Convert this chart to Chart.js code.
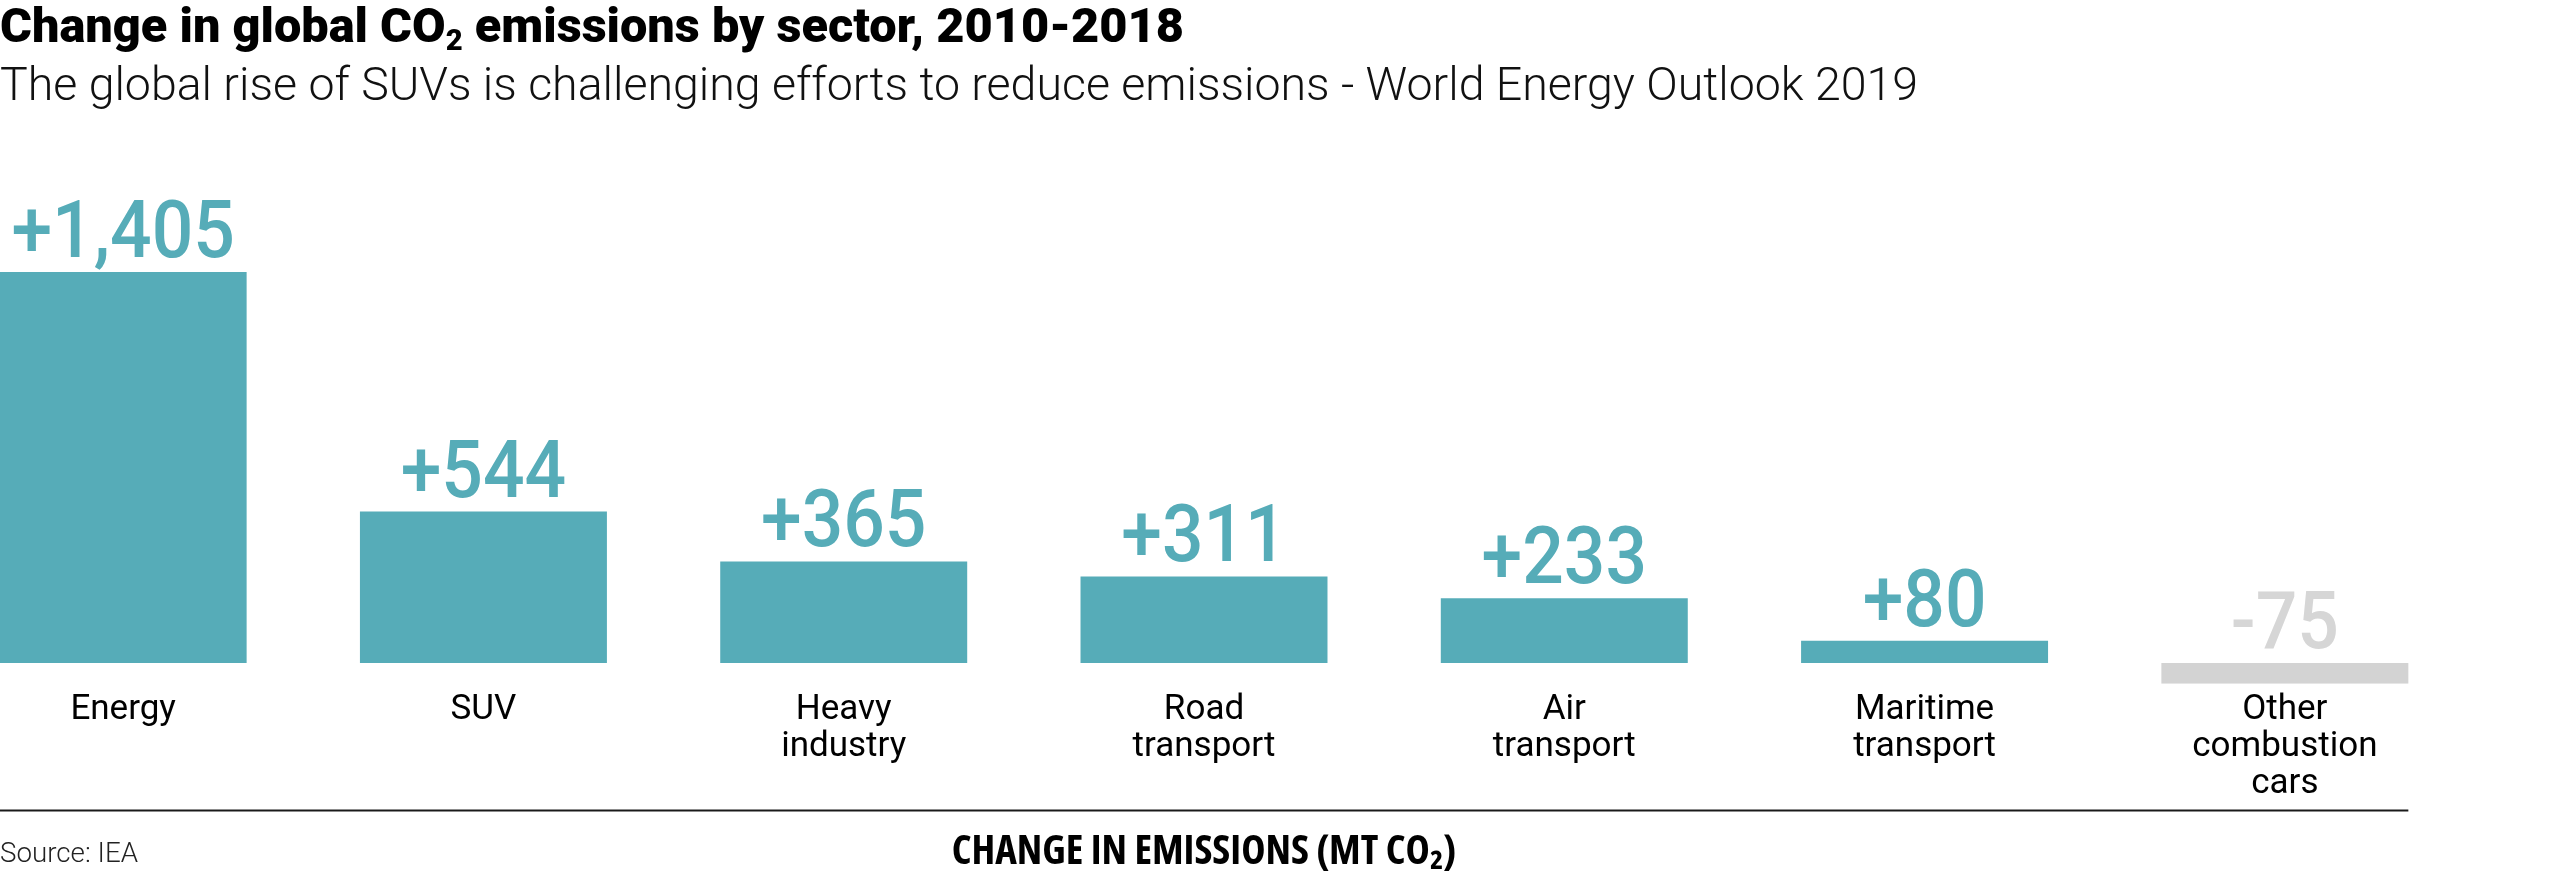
<!DOCTYPE html>
<html><head><meta charset="utf-8">
<script src="https://cdn.jsdelivr.net/npm/chart.js@4.4.1/dist/chart.umd.min.js"></script>
<style>
html,body{margin:0;padding:0;background:#fff;width:2560px;height:884px;overflow:hidden;position:relative}
#wrap{position:absolute;left:-57px;top:0;width:2617px;height:884px}
canvas{display:block}
.txt{position:absolute;left:0;white-space:nowrap;transform-origin:0 0;color:#000;font-family:Roboto,sans-serif;line-height:1;margin:0}
#title{top:1.6px;font-size:48px;font-weight:900}
#sub{top:61.3px;font-size:46px;font-weight:300;color:#111}
#src{top:839.4px;font-size:28px;font-weight:300;color:#222}
.sb{font-size:60%;position:relative;top:0.3em}
</style></head>
<body>
<div id="wrap"><canvas id="c" width="2617" height="884"></canvas></div>
<div class="txt" id="title" data-w="1184">Change in global CO<span class="sb">2</span> emissions by sector, 2010-2018</div>
<div class="txt" id="sub" data-w="1918">The global rise of SUVs is challenging efforts to reduce emissions - World Energy Outlook 2019</div>
<div class="txt" id="src" data-w="138">Source: IEA</div>
<script>
const categories = [['Energy'], ['SUV'], ['Heavy', 'industry'], ['Road', 'transport'], ['Air', 'transport'], ['Maritime', 'transport'], ['Other', 'combustion', 'cars']];
const values = [1405, 544, 365, 311, 233, 80, -75];
const axisTitle = 'CHANGE IN EMISSIONS (MT CO₂)';
const yMin = -75, yMax = 1500;

const POS = '#56acb8', NEG = '#d3d3d3', NEG_LABEL = '#d6d6d6';

const valueLabels = {
  id: 'valueLabels',
  afterDatasetsDraw(chart) {
    const ctx = chart.ctx;
    const meta = chart.getDatasetMeta(0);
    ctx.save();
    ctx.font = '500 80px Roboto';
    ctx.textAlign = 'center';
    ctx.textBaseline = 'alphabetic';
    meta.data.forEach((bar, i) => {
      const v = values[i];
      const txt = (v > 0 ? '+' : '-') + Math.abs(v).toLocaleString('en-US');
      const y = Math.min(bar.y, bar.base) - 15;
      ctx.fillStyle = v < 0 ? NEG_LABEL : POS;
      ctx.save();
      ctx.translate(bar.x, y);
      ctx.scale(0.915, 1);
      ctx.fillText(txt, 0, 0);
      ctx.restore();
    });
    ctx.restore();
  }
};

const baseLine = {
  id: 'baseLine',
  afterDraw(chart) {
    const meta = chart.getDatasetMeta(0);
    const first = meta.data[0], last = meta.data[meta.data.length - 1];
    const x0 = first.x - first.width / 2, x1 = last.x + last.width / 2;
    const ctx = chart.ctx;
    ctx.save();
    ctx.strokeStyle = '#1a1a1a';
    ctx.lineWidth = 2;
    ctx.beginPath();
    ctx.moveTo(x0, 810.5);
    ctx.lineTo(x1, 810.5);
    ctx.stroke();
    ctx.restore();
  }
};

new Chart(document.getElementById('c'), {
  type: 'bar',
  data: {
    labels: categories,
    datasets: [{
      data: values,
      backgroundColor: values.map(v => v < 0 ? NEG : POS),
      borderWidth: 0,
      categoryPercentage: 1,
      barPercentage: 0.6855
    }]
  },
  options: {
    responsive: false,
    animation: false,
    devicePixelRatio: 1,
    layout: { padding: { left: 0, right: 95, top: 245.57, bottom: 10 } },
    plugins: { legend: { display: false }, tooltip: { enabled: false }, title: { display: false } },
    scales: {
      x: {
        grid: { display: false, drawTicks: false },
        border: { display: false },
        ticks: { color: '#000', font: { family: 'Roboto', size: 35, lineHeight: '37px' }, padding: 8, maxRotation: 0, autoSkip: false },
        title: { display: true, text: axisTitle, color: '#000', font: { family: "'Open Sans'", weight: 'bold semi-condensed', size: 41, lineHeight: 1 }, padding: { top: 0, bottom: 1 } },
        afterFit(s) { s.height = 190.13; }
      },
      y: { display: false, min: yMin, max: yMax }
    }
  },
  plugins: [valueLabels, baseLine]
});

function fit() {
  document.querySelectorAll('.txt').forEach(el => {
    const w = el.getBoundingClientRect().width;
    const t = +el.dataset.w;
    if (w > 0) el.style.transform = 'scaleX(' + (t / w) + ')';
  });
}
if (document.fonts && document.fonts.ready) document.fonts.ready.then(fit); else fit();
</script>
</body></html>
